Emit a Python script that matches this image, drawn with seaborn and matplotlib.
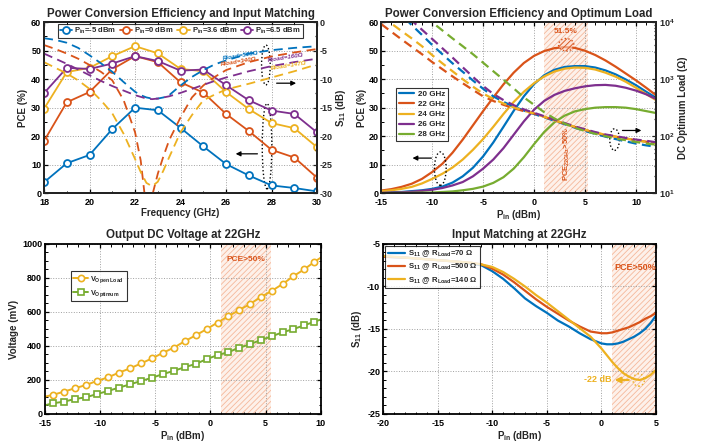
import numpy as np
import pandas as pd
import matplotlib
matplotlib.use('Agg')
import matplotlib.pyplot as plt
import seaborn as sns
from matplotlib.patches import Ellipse
from matplotlib.ticker import MultipleLocator

# ---------------- data: panel 1 (PCE & S11 vs frequency) ----------------
freq = [18, 19, 20, 21, 22, 23, 24, 25, 26, 27, 28, 29, 30]
pce_pin_m5 = [3.8, 10.5, 13.4, 22.5, 30.0, 29.1, 22.9, 16.4, 10.2, 6.2, 2.7, 1.8, 0.6]
pce_pin_0 = [18.3, 31.9, 35.5, 43.5, 48.1, 46.0, 38.9, 35.3, 27.8, 21.8, 15.2, 12.5, 5.4]
pce_pin_3p6 = [29.6, 42.5, 44.0, 48.1, 51.6, 49.1, 43.6, 42.8, 35.5, 29.5, 24.6, 22.8, 16.1]
pce_pin_6p5 = [35.1, 44.0, 43.6, 45.5, 48.1, 46.4, 43.0, 43.4, 37.9, 32.6, 29.0, 27.8, 21.3]
pin_labels = ['P$_{in}$=-5 dBm', 'P$_{in}$=0 dBm', 'P$_{in}$=3.6 dBm', 'P$_{in}$=6.5 dBm']

f_s11 = [18, 18.5, 19, 19.5, 20, 20.5, 21, 21.5, 22, 22.25, 22.5, 22.75, 23, 23.25,
         23.5, 24, 24.5, 25, 25.5, 26, 27, 28, 29, 30]
s11_r500 = [-2.8, -3.1, -3.6, -4.5, -5.8, -7.2, -8.7, -10.5, -12.2, -12.8, -13.2, -13.4, -13.4,
            -13.2, -12.8, -11.1, -9.6, -8.4, -7.4, -6.7, -5.5, -4.9, -4.5, -4.2]
s11_r340 = [-4.0, -4.7, -5.5, -6.4, -7.5, -8.7, -10.2, -13.7, -19.3, -24.3, -33.0, -30.5, -26.6,
            -23.5, -20.7, -16.7, -13.2, -11.1, -9.6, -8.4, -7.0, -6.0, -5.3, -4.7]
s11_r147 = [-7.0, -8.0, -9.0, -10.2, -11.7, -13.7, -16.0, -19.6, -24.0, -26.3, -28.2, -28.8, -28.0,
            -26.0, -23.7, -19.3, -16.3, -13.7, -12.7, -11.8, -10.8, -9.7, -8.6, -7.4]
s11_r160 = [-5.5, -6.4, -7.3, -8.3, -9.3, -10.3, -11.2, -12.0, -12.8, -13.1, -13.4, -13.5, -13.4,
            -13.2, -13.0, -12.4, -11.7, -11.0, -10.3, -9.7, -8.6, -7.7, -7.0, -6.4]
rload_labels = ['Rload=500Ω', 'Rload=340Ω', 'Rload=160Ω', 'Rload=147Ω']

# ---------------- data: panel 2 (PCE & optimum load vs Pin) ----------------
pin2 = list(range(-15, 13))
pce_20 = [0.2, 0.3, 0.4, 0.7, 1.0, 1.5, 2.3, 3.7, 5.9, 8.9, 12.9, 17.8, 23.3, 28.9, 34.0, 38.3,
          41.4, 43.3, 44.3, 44.6, 44.6, 44.1, 43.1, 41.7, 39.9, 37.9, 35.6, 33.4]
pce_22 = [0.9, 1.4, 2.2, 3.3, 5.0, 7.4, 10.3, 14.2, 18.8, 23.8, 28.8, 33.6, 38.2, 42.3, 45.7, 48.2,
          49.9, 50.9, 51.3, 51.0, 50.0, 48.5, 46.6, 44.4, 42.0, 39.6, 37.0, 34.3]
pce_24 = [0.7, 1.0, 1.5, 2.2, 3.4, 5.0, 6.8, 9.0, 11.8, 15.2, 19.0, 23.3, 27.8, 32.0, 35.6, 38.6,
          41.0, 42.7, 43.7, 44.1, 44.0, 43.4, 42.3, 40.9, 39.1, 37.0, 34.8, 32.6]
pce_26 = [0.1, 0.2, 0.3, 0.5, 0.8, 1.2, 1.8, 2.7, 3.9, 5.9, 8.6, 11.8, 15.8, 20.5, 25.2, 29.3,
          32.4, 34.5, 35.9, 36.8, 37.5, 37.9, 38.0, 37.7, 37.0, 36.0, 34.7, 33.0]
pce_28 = [0.0, 0.05, 0.1, 0.1, 0.2, 0.2, 0.4, 0.6, 1.0, 1.5, 2.3, 3.6, 5.6, 8.6, 12.6, 17.2,
          21.5, 24.9, 27.2, 28.7, 29.5, 30.0, 30.2, 30.2, 30.0, 29.5, 28.8, 28.1]
load_20 = [28000, 20000, 13500, 8900, 6000, 4000, 2750, 1900, 1350, 950, 680, 500, 400, 330, 282, 245,
           214, 186, 162, 141, 123, 110, 98, 89, 81, 74, 69, 65]
load_22 = [9300, 6800, 5000, 3700, 2750, 2000, 1500, 1120, 850, 650, 500, 415, 355, 310, 275, 250,
           218, 190, 165, 145, 129, 115, 105, 98, 91, 85, 80, 76]
load_24 = [12500, 9500, 7000, 5200, 3800, 2650, 1900, 1380, 1000, 740, 560, 450, 375, 320, 280, 250,
           218, 190, 166, 146, 130, 116, 106, 98, 91, 85, 79, 74]
load_26 = [34000, 23000, 16000, 10700, 7400, 5100, 3500, 2400, 1620, 1100, 760, 550, 430, 350, 295, 257,
           224, 195, 170, 148, 132, 118, 107, 100, 93, 87, 83, 78]
load_28 = [50000, 36000, 26000, 19000, 14000, 10000, 7200, 5200, 3800, 2750, 1950, 1380, 980, 690, 480, 355,
           263, 204, 166, 141, 123, 110, 100, 91, 85, 79, 74, 71]
freq_labels = ['20 GHz', '22 GHz', '24 GHz', '26 GHz', '28 GHz']

# ---------------- data: panel 3 (output DC voltage) ----------------
pin3 = [-15, -14.3, -13.3, -12.3, -11.3, -10.3, -9.3, -8.3, -7.3, -6.3, -5.3, -4.3, -3.3, -2.3,
        -1.3, -0.35, 0.65, 1.6, 2.6, 3.6, 4.6, 5.6, 6.55, 7.5, 8.5, 9.4, 10]
v_open = [102, 112, 131, 151, 170, 194, 215, 243, 268, 297, 327, 360, 391, 429, 464, 499, 538,
          575, 611, 648, 689, 726, 765, 810, 851, 894, 920]
v_opt = [51, 63, 72, 88, 98, 117, 135, 155, 174, 194, 213, 235, 254, 276, 295, 323, 346, 364,
         389, 411, 436, 458, 481, 499, 522, 542, 556]

# ---------------- data: panel 4 (input matching at 22 GHz) ----------------
pin4 = [-20, -18, -16, -14, -13, -12, -11, -10, -9, -8, -7, -6, -5, -4, -3, -2, -1, 0, 0.5, 1,
        1.5, 2, 2.5, 3, 3.5, 4, 4.5, 5]
s11_70 = [-6.5, -6.6, -6.8, -7.0, -7.1, -7.3, -7.5, -8.2, -9.1, -10.2, -11.4, -12.3, -13.1, -14.0,
          -14.7, -15.5, -16.2, -16.7, -16.8, -16.8, -16.7, -16.5, -16.2, -15.9, -15.5, -15.0, -14.3, -13.4]
s11_500 = [-6.5, -6.6, -6.8, -7.0, -7.1, -7.2, -7.4, -7.9, -8.6, -9.5, -10.5, -11.5, -12.4, -13.2,
           -14.0, -14.7, -15.3, -15.5, -15.5, -15.4, -15.2, -15.0, -14.8, -14.5, -14.2, -13.8, -13.5, -13.1]
s11_140 = [-6.4, -6.6, -6.8, -7.0, -7.1, -7.2, -7.4, -7.7, -8.3, -9.1, -10.0, -11.0, -11.9, -12.9,
           -13.9, -14.9, -15.9, -17.3, -18.1, -18.9, -19.6, -20.2, -20.6, -20.9, -21.0, -20.8, -20.4, -19.8]
match_labels = ['S$_{11}$ @ R$_{Load}$=70 Ω', 'S$_{11}$ @ R$_{Load}$=500 Ω', 'S$_{11}$ @ R$_{Load}$=140 Ω']

# ---------------- style ----------------
C_BLUE, C_ORANGE, C_YELLOW, C_PURPLE, C_GREEN = '#0072BD', '#D95319', '#EDB120', '#7E2F8E', '#77AC30'

sns.set_theme(style='ticks')
FONT = ['Liberation Sans', 'DejaVu Sans']
plt.rcParams['font.family'] = FONT
plt.rcParams['font.weight'] = 'bold'
plt.rcParams['axes.labelweight'] = 'bold'
plt.rcParams['axes.titleweight'] = 'bold'
plt.rcParams['axes.unicode_minus'] = False
plt.rcParams['mathtext.fontset'] = 'custom'
plt.rcParams['mathtext.rm'] = 'Liberation Sans:bold'
plt.rcParams['mathtext.it'] = 'Liberation Sans:bold'
plt.rcParams['mathtext.bf'] = 'Liberation Sans:bold'
plt.rcParams['mathtext.default'] = 'regular'
plt.rcParams['hatch.linewidth'] = 0.6

fig = plt.figure(figsize=(7.02, 4.45), dpi=100)
fig.patch.set_facecolor('white')

TICK_FS = 6.5
LAB_FS = 7
TITLE_FS = 8.3


def style_axes(ax, right=True):
    for s in ax.spines.values():
        s.set_linewidth(1.3)
        s.set_color('black')
    ax.tick_params(direction='in', which='both', top=True, right=right, labelsize=TICK_FS,
                   length=3, width=0.9, colors='black', pad=2)
    ax.tick_params(axis='x', pad=3.5)
    ax.tick_params(which='minor', length=1.8, width=0.7)
    ax.grid(True, which='major', linestyle=':', color='#a0a0a0', linewidth=0.7)
    ax.set_facecolor('white')


def remove_legend(ax):
    lg = ax.get_legend()
    if lg is not None:
        lg.remove()


def shade(ax, x0, x1):
    ax.axvspan(x0, x1, facecolor=(0.99, 0.90, 0.85, 0.55), edgecolor='#F5B89B', hatch='//////',
               linewidth=0, zorder=0.5)

# =============== Panel 1 ===============
ax1 = fig.add_axes([0.0627, 0.566, 0.389, 0.384])
ax1t = ax1.twinx()
style_axes(ax1, right=False)
for vals, col, lab in zip([pce_pin_m5, pce_pin_0, pce_pin_3p6, pce_pin_6p5],
                          [C_BLUE, C_ORANGE, C_YELLOW, C_PURPLE], pin_labels):
    sns.lineplot(x=freq, y=vals, ax=ax1, color=col, linewidth=1.3, marker='o', markersize=5,
                 markerfacecolor='white', markeredgecolor=col, markeredgewidth=1.3, label=lab)
remove_legend(ax1)
for vals, col in zip([s11_r500, s11_r340, s11_r160, s11_r147],
                     [C_BLUE, C_ORANGE, C_PURPLE, C_YELLOW]):
    sns.lineplot(x=f_s11, y=vals, ax=ax1t, color=col, linewidth=1.3, linestyle=(0, (5, 3)))
remove_legend(ax1t)
ax1.set_xlim(18, 30)
ax1.set_ylim(0, 60)
ax1.xaxis.set_major_locator(MultipleLocator(2))
ax1.xaxis.set_minor_locator(MultipleLocator(1))
ax1.yaxis.set_major_locator(MultipleLocator(10))
ax1.yaxis.set_minor_locator(MultipleLocator(5))
ax1t.set_ylim(-30, 0)
ax1t.yaxis.set_major_locator(MultipleLocator(5))
ax1t.yaxis.set_minor_locator(MultipleLocator(2.5))
ax1t.tick_params(direction='in', which='both', labelsize=TICK_FS, length=3, width=0.9, pad=2)
ax1t.tick_params(which='minor', length=1.8)
for s in ax1t.spines.values():
    s.set_linewidth(1.3)
ax1.set_xlabel('Frequency (GHz)', fontsize=LAB_FS, labelpad=1)
ax1.set_ylabel('PCE (%)', fontsize=LAB_FS, labelpad=2)
ax1t.set_ylabel('S$_{11}$ (dB)', fontsize=LAB_FS, labelpad=1)
ax1.set_title('Power Conversion Efficiency and Input Matching', fontsize=TITLE_FS, pad=4)
h, l = ax1.get_legend_handles_labels()
leg1 = ax1t.legend(h, l, loc='upper center', bbox_to_anchor=(0.5, 1.0), ncol=4, fontsize=5.5,
                   frameon=True, fancybox=False, edgecolor='black', handlelength=1.6,
                   columnspacing=0.5, handletextpad=0.25, borderpad=0.25, borderaxespad=0.2)
leg1.get_frame().set_linewidth(0.8)
# Rload annotations
for txt, (xx, yy), col in zip(rload_labels,
                              [(26.64, -5.8), (26.55, -6.9), (28.6, -6.3), (28.75, -7.7)],
                              [C_BLUE, C_ORANGE, C_PURPLE, C_YELLOW]):
    ax1t.text(xx, yy, txt, color=col, fontsize=4.5, rotation=9, ha='center', va='center',
              style='italic')
ax1.add_patch(Ellipse((27.75, 45), 0.38, 14, fill=False, linestyle=':', edgecolor='black', linewidth=1.0))
ax1.add_patch(Ellipse((27.8, 16.5), 0.42, 30, fill=False, linestyle=':', edgecolor='black', linewidth=1.0))
ax1.annotate('', xy=(29.2, 38.6), xytext=(28.1, 38.6),
             arrowprops=dict(arrowstyle='-|>', color='black', lw=0.9, mutation_scale=7))
ax1.annotate('', xy=(26.3, 13.8), xytext=(27.5, 13.8),
             arrowprops=dict(arrowstyle='-|>', color='black', lw=0.9, mutation_scale=7))

# =============== Panel 2 ===============
ax2 = fig.add_axes([0.543, 0.566, 0.392, 0.384])
ax2t = ax2.twinx()
style_axes(ax2, right=False)
shade(ax2, 0.95, 5.25)
cols2 = [C_BLUE, C_ORANGE, C_YELLOW, C_PURPLE, C_GREEN]
for vals, col, lab in zip([pce_20, pce_22, pce_24, pce_26, pce_28], cols2, freq_labels):
    sns.lineplot(x=pin2, y=vals, ax=ax2, color=col, linewidth=1.6, label=lab)
remove_legend(ax2)
ax2t.set_yscale('log')
for vals, col in zip([load_20, load_22, load_24, load_26, load_28], cols2):
    sns.lineplot(x=pin2, y=vals, ax=ax2t, color=col, linewidth=1.6, linestyle=(0, (4, 2.5)))
remove_legend(ax2t)
ax2.set_xlim(-15, 12)
ax2.set_ylim(0, 60)
ax2.xaxis.set_major_locator(MultipleLocator(5))
ax2.xaxis.set_minor_locator(MultipleLocator(1))
ax2.yaxis.set_major_locator(MultipleLocator(10))
ax2.yaxis.set_minor_locator(MultipleLocator(5))
ax2t.set_ylim(10, 1e4)
ax2t.tick_params(direction='in', which='both', labelsize=TICK_FS, length=3, width=0.9, pad=2)
ax2t.tick_params(which='minor', length=1.8)
for s in ax2t.spines.values():
    s.set_linewidth(1.3)
ax2.set_xlabel('P$_{in}$ (dBm)', fontsize=LAB_FS, labelpad=1)
ax2.set_ylabel('PCE (%)', fontsize=LAB_FS, labelpad=1)
ax2t.set_ylabel('DC Optimum Load (Ω)', fontsize=LAB_FS, labelpad=2)
ax2.set_title('Power Conversion Efficiency and Optimum Load', fontsize=TITLE_FS, pad=4)
h, l = ax2.get_legend_handles_labels()
leg2 = ax2t.legend(h, l, loc='upper left', bbox_to_anchor=(0.04, 0.64), fontsize=5.8,
                   frameon=True, fancybox=False, edgecolor='black', handlelength=1.8,
                   handletextpad=0.5, borderpad=0.35, labelspacing=0.3)
leg2.get_frame().set_linewidth(0.8)
ax2.add_patch(Ellipse((3.15, 52.1), 1.5, 4.4, facecolor=(0.99, 0.85, 0.8, 0.6), edgecolor=C_ORANGE,
                      hatch='//////', linestyle=':', linewidth=1.0, zorder=5))
ax2.text(3.15, 56.6, '51.5%', color=C_ORANGE, fontsize=6, ha='center', va='center')
ax2.text(3.2, 13.6, 'PCE$_{22GHz}$>50%', color=C_ORANGE, fontsize=5.5, rotation=90,
         ha='center', va='center')
ax2.add_patch(Ellipse((-9.2, 8.6), 1.15, 11.7, fill=False, linestyle=':', edgecolor='black', linewidth=1.0, zorder=6))
ax2.annotate('', xy=(-12.2, 12.3), xytext=(-9.8, 12.3),
             arrowprops=dict(arrowstyle='-|>', color='black', lw=0.9, mutation_scale=7))
ax2.add_patch(Ellipse((7.9, 18.8), 0.95, 7.6, fill=False, linestyle=':', edgecolor='black', linewidth=1.0, zorder=6))
ax2.annotate('', xy=(10.8, 22.0), xytext=(8.4, 22.0),
             arrowprops=dict(arrowstyle='-|>', color='black', lw=0.9, mutation_scale=7))

# =============== Panel 3 ===============
ax3 = fig.add_axes([0.064, 0.0697, 0.393, 0.382])
style_axes(ax3)
shade(ax3, 0.93, 5.47)
inner = list(range(1, len(pin3) - 1))
sns.lineplot(x=pin3, y=v_open, ax=ax3, color=C_YELLOW, linewidth=1.4, marker='o', markersize=4.5,
             markerfacecolor='white', markeredgecolor=C_YELLOW, markeredgewidth=1.2,
             markevery=inner, label='V$_{Open\\ Load}$')
sns.lineplot(x=pin3, y=v_opt, ax=ax3, color=C_GREEN, linewidth=1.4, marker='s', markersize=4,
             markerfacecolor='white', markeredgecolor=C_GREEN, markeredgewidth=1.2,
             markevery=inner, label='V$_{Optimum}$')
remove_legend(ax3)
ax3.set_xlim(-15, 10)
ax3.set_ylim(0, 1000)
ax3.xaxis.set_major_locator(MultipleLocator(5))
ax3.xaxis.set_minor_locator(MultipleLocator(1))
ax3.yaxis.set_major_locator(MultipleLocator(200))
ax3.yaxis.set_minor_locator(MultipleLocator(50))
ax3.set_xlabel('P$_{in}$ (dBm)', fontsize=LAB_FS, labelpad=1)
ax3.set_ylabel('Voltage (mV)', fontsize=LAB_FS, labelpad=2)
ax3.set_title('Output DC Voltage at 22GHz', fontsize=TITLE_FS, pad=4)
leg3 = ax3.legend(loc='upper left', bbox_to_anchor=(0.08, 0.86), fontsize=5.3, frameon=True,
                  fancybox=False, edgecolor='black', handlelength=2.0, handletextpad=0.3,
                  borderpad=0.35, labelspacing=0.4)
leg3.get_frame().set_linewidth(0.8)
ax3.text(3.2, 908, 'PCE>50%', color=C_ORANGE, fontsize=6, ha='center', va='center')

# =============== Panel 4 ===============
ax4 = fig.add_axes([0.5456, 0.0697, 0.389, 0.382])
style_axes(ax4)
shade(ax4, 1.0, 5.0)
for vals, col, lab in zip([s11_70, s11_500, s11_140], [C_BLUE, C_ORANGE, C_YELLOW], match_labels):
    sns.lineplot(x=pin4, y=vals, ax=ax4, color=col, linewidth=1.6, label=lab)
remove_legend(ax4)
ax4.set_xlim(-20, 5)
ax4.set_ylim(-25, -5)
ax4.xaxis.set_major_locator(MultipleLocator(5))
ax4.xaxis.set_minor_locator(MultipleLocator(1))
ax4.yaxis.set_major_locator(MultipleLocator(5))
ax4.yaxis.set_minor_locator(MultipleLocator(1))
ax4.set_xlabel('P$_{in}$ (dBm)', fontsize=LAB_FS, labelpad=1)
ax4.set_ylabel('S$_{11}$ (dB)', fontsize=LAB_FS, labelpad=2)
ax4.set_title('Input Matching at 22GHz', fontsize=TITLE_FS, pad=4)
leg4 = ax4.legend(loc='upper left', bbox_to_anchor=(0.0, 1.0), fontsize=5.6, frameon=True,
                  fancybox=False, edgecolor='black', handlelength=2.2, handletextpad=0.4,
                  borderpad=0.3, labelspacing=0.3, borderaxespad=0.3)
leg4.get_frame().set_linewidth(0.8)
ax4.text(3.05, -7.8, 'PCE>50%', color=C_ORANGE, fontsize=6.5, ha='center', va='center')
ax4.add_patch(Ellipse((3.4, -21.0), 1.05, 1.45, fill=False, linestyle=':', edgecolor=C_YELLOW, linewidth=1.0))
ax4.annotate('', xy=(0.95, -21.0), xytext=(2.75, -21.0),
             arrowprops=dict(arrowstyle='-|>', color=C_YELLOW, lw=1.6, mutation_scale=8))
ax4.text(-0.35, -21.0, '-22 dB', color=C_YELLOW, fontsize=6.5, ha='center', va='center')

fig.savefig('out.png', dpi=100, facecolor='white')
